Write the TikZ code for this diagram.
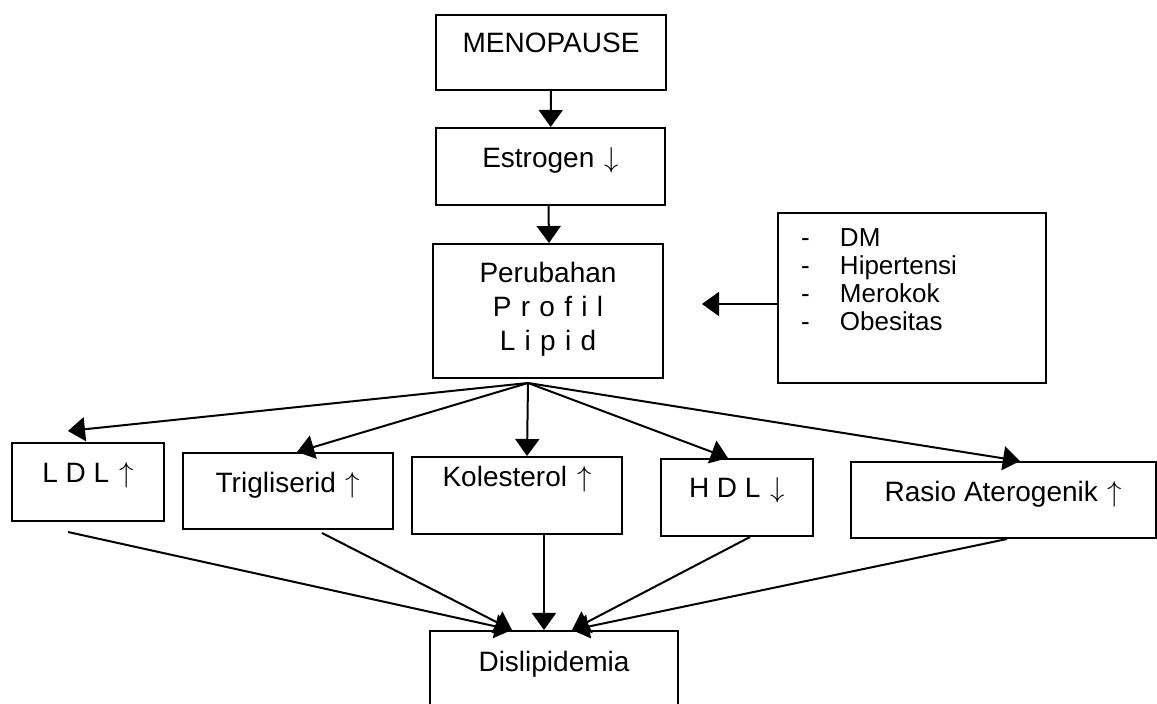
\documentclass[tikz,border=0pt]{standalone}
\usepackage{fontspec}
\setmainfont{Liberation Sans}
\usetikzlibrary{arrows.meta}

\begin{document}
\begin{tikzpicture}[x=0.5pt,y=-0.5pt,
	box/.style={draw,line width=1pt,inner sep=0pt,font=\fontsize{14}{16.8}\selectfont},
	con/.style={line width=1pt,-{Triangle[length=8.5pt,width=12pt]}}]
			%%%%% START %%%%%
			\def\lw{1pt}
			\def\up{\hspace{5pt}$\uparrow$}
			\def\dn{\hspace{5pt}$\downarrow$}
			\def\dash{\makebox[19.5pt][l]{-}}
			\useasboundingbox (0,0) rectangle (1157,704);
			
			\node[box,minimum width=115pt,text height=19pt,text depth=18.5pt] (meno) at (551,52.5) {MENOPAUSE};
			\node[box,minimum width=114.5pt,text height=20pt,text depth=18.5pt] (estro) at (550.5,166.5) {Estrogen\dn};
			\node[box,text width=115pt,align=center,text height=19.5pt,text depth=47.5pt] (perub) at (548,311) {Perubahan\\P r o f i l\\L i p i d};
			\node[box,text width=111pt,inner xsep=11.5pt,align=left,text height=17pt,text depth=68pt,
				font=\fontsize{13}{14}\selectfont] (risk) at (912,298) {\dash DM\\\dash Hipertensi\\\dash Merokok\\\dash Obesitas};
			
			\node[box,minimum width=76pt,text height=20pt,text depth=19pt] (ldl) at (88,482) {L D L\up};
			\node[box,minimum width=105pt,text height=20pt,text depth=18pt] (trig) at (288,491) {Trigliserid\up};
			\node[box,minimum width=105pt,text height=15pt,text depth=23.5pt] (kol) at (517,495.5) {Kolesterol\up};
			\node[box,minimum width=76pt,text height=19.5pt,text depth=19pt] (hdl) at (737,497.5) {H D L\dn};
			\node[box,minimum width=152.5pt,text height=20pt,text depth=18pt] (rasio) at (1003.5,500) {Rasio Aterogenik\up};
			
			\node[box,minimum width=124pt,text height=20.5pt,text depth=34pt] (disl) at (554,685.5) {Dislipidemia};
			
			\coordinate (fork) at (528,383);
			\coordinate (riskin) at (702,304);
			
			\draw[con] (meno) -- (estro);
			\draw[con] ([xshift=-1pt]estro.south) -- ([xshift=0.5pt]perub.north);
			\draw[con] ([yshift=-3pt]risk.west) -- (riskin);
			
			\draw[con] (fork) -- ([xshift=-10pt,yshift=5.5pt]ldl.north);
			\draw[con] (fork) -- ([xshift=4.5pt]trig.north);
			\draw[con] (fork) -- ([xshift=5pt]kol.north);
			\draw[con] (fork) -- ([xshift=-4.5pt]hdl.north);
			\draw[con] (fork) -- ([xshift=8.25pt]rasio.north);
			
			\draw[con] ([xshift=-10pt,yshift=-5pt]ldl.south) -- ([xshift=-21pt]disl.north);
			\draw[con] ([xshift=17pt,yshift=-1.5pt]trig.south) -- ([xshift=-21pt]disl.north);
			\draw[con] ([xshift=13.5pt]kol.south) -- ([xshift=-5pt]disl.north);
			\draw[con] ([xshift=6.5pt]hdl.south) -- ([xshift=9pt]disl.north);
			\draw[con] ([xshift=1.75pt]rasio.south) -- ([xshift=9pt]disl.north);
			%%%%% END %%%%%
\end{tikzpicture}
\end{document}
